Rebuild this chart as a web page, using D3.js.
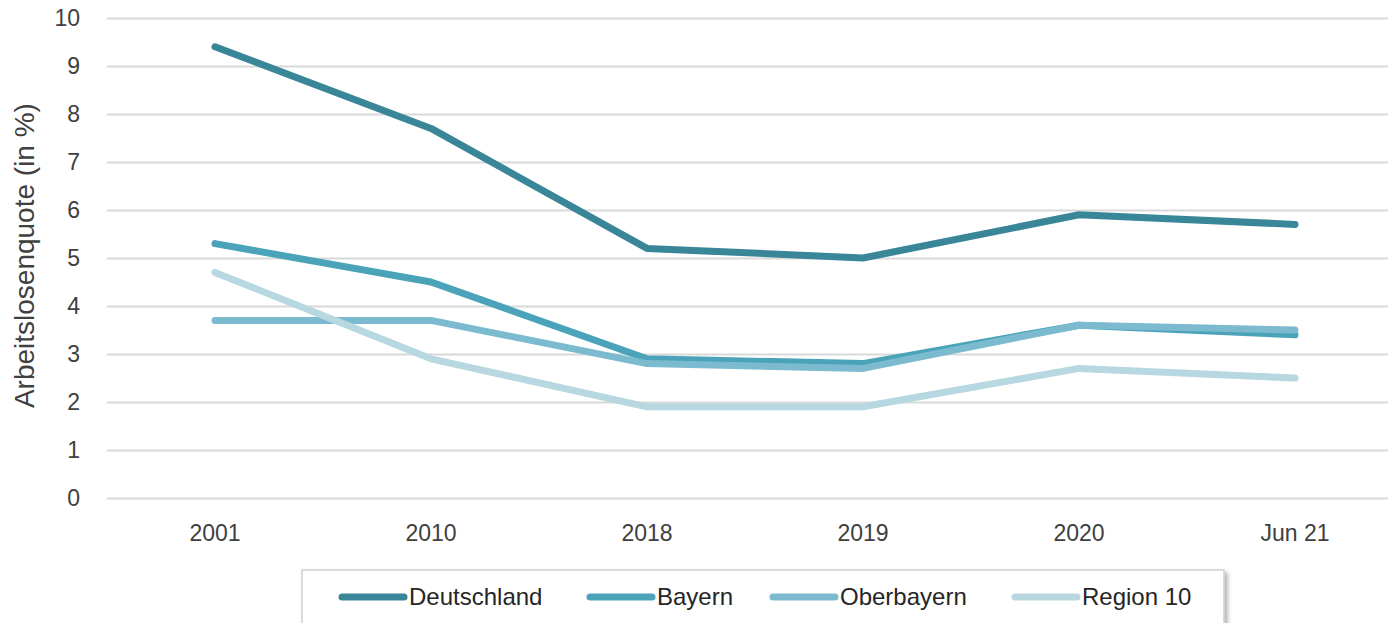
<!DOCTYPE html>
<html>
<head>
    <meta charset="utf-8">
    <title>Arbeitslosenquote</title>
    <script src="https://d3js.org/d3.v7.min.js"></script>
    <style>
        body { margin: 0; background: #fff; }
        svg { display: block; font-family: "Liberation Sans", Arial, sans-serif; }
        .grid line { stroke: #d9d9d9; stroke-width: 2px; }
        .tick text { fill: #404040; font-size: 23px; }
        .series { fill: none; stroke-width: 7px; stroke-linecap: round; stroke-linejoin: round; }
    </style>
</head>
<body>
    <svg width="1388" height="623"></svg>

    <script>
        // chart values
        const categories = ["2001", "2010", "2018", "2019", "2020", "Jun 21"];
        const seriesNames = ["Deutschland", "Bayern", "Oberbayern", "Region 10"];
        const deutschland = [9.4, 7.7, 5.2, 5.0, 5.9, 5.7];
        const bayern = [5.3, 4.5, 2.9, 2.8, 3.6, 3.4];
        const oberbayern = [3.7, 3.7, 2.8, 2.7, 3.6, 3.5];
        const region10 = [4.7, 2.9, 1.9, 1.9, 2.7, 2.5];
        const yTicks = [0, 1, 2, 3, 4, 5, 6, 7, 8, 9, 10];
        const colors = ["#3a8699", "#4aa3b9", "#7cbbcf", "#b7d7e1"];

        const allSeries = [deutschland, bayern, oberbayern, region10];

        const svg = d3.select("svg");
        const margin = { left: 107, top: 18, right: 1403, bottom: 498 };

        const x = d3.scaleBand()
            .domain(categories)
            .range([margin.left, margin.right]);

        const y = d3.scaleLinear()
            .domain([0, 10])
            .range([margin.bottom, margin.top]);

        // horizontal gridlines + y labels
        const yAxis = svg.append("g")
            .attr("class", "grid")
            .attr("transform", `translate(${margin.left},0)`)
            .call(d3.axisLeft(y).tickValues(yTicks).tickSize(-(1388 - margin.left)).tickPadding(27));
        yAxis.select(".domain").remove();

        // x labels
        const xAxis = svg.append("g")
            .attr("transform", `translate(0,${margin.bottom})`)
            .call(d3.axisBottom(x).tickSize(0).tickPadding(27));
        xAxis.select(".domain").remove();

        // y axis title
        svg.append("text")
            .attr("transform", `translate(34,${y(5.05)}) rotate(-90)`)
            .attr("text-anchor", "middle")
            .attr("fill", "#404040")
            .style("font-size", "28px")
            .text("Arbeitslosenquote (in %)");

        const line = d3.line()
            .x((d, i) => x(categories[i]) + x.bandwidth() / 2)
            .y(d => y(d));

        allSeries.forEach((s, i) => {
            svg.append("path")
                .datum(s)
                .attr("class", "series")
                .attr("stroke", colors[i])
                .attr("d", line);
        });

        // legend
        const legend = svg.append("g");
        const defs = svg.append("defs");
        const filt = defs.append("filter").attr("id", "shadow")
            .attr("x", "-5%").attr("y", "-20%").attr("width", "110%").attr("height", "150%");
        filt.append("feDropShadow").attr("dx", 3).attr("dy", 3).attr("stdDeviation", 2)
            .attr("flood-color", "#000").attr("flood-opacity", 0.3);

        legend.append("rect")
            .attr("x", 302).attr("y", 570)
            .attr("width", 922).attr("height", 70)
            .attr("fill", "#fff")
            .attr("stroke", "#cfcfcf")
            .attr("stroke-width", 1.5)
            .attr("filter", "url(#shadow)");

        const legendX = [342, 590, 773, 1015];
        seriesNames.forEach((name, i) => {
            const g = legend.append("g").attr("transform", `translate(${legendX[i]},597)`);
            g.append("line")
                .attr("x1", 0).attr("x2", 62)
                .attr("stroke", colors[i])
                .attr("stroke-width", 7)
                .attr("stroke-linecap", "round");
            g.append("text")
                .attr("x", 67)
                .attr("dy", "0.35em")
                .attr("fill", "#262626")
                .style("font-size", "24px")
                .text(name);
        });
    </script>
</body>
</html>
